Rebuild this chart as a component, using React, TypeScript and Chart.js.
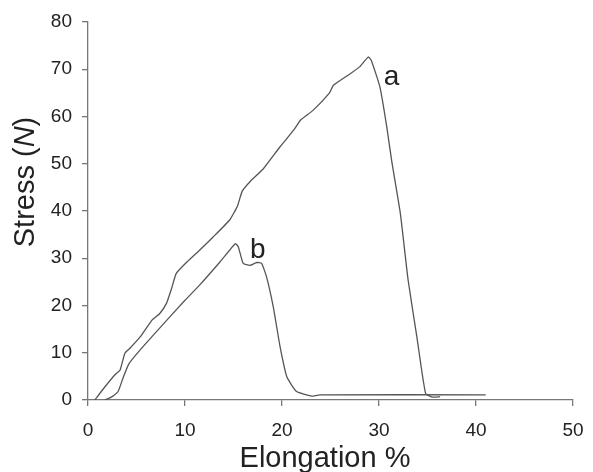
import React, { useEffect, useRef } from "react";
import { Chart, registerables } from "chart.js";

Chart.register(...registerables);

// Curve a (upper curve)
const curveAX = [0.7, 1.75, 2.8, 3.3, 3.8, 4.3, 5.4, 6.6, 7.4, 8.1, 8.6, 9.1, 10.2, 11.5, 12.9, 14.6, 15.4, 15.9, 16.7, 18.1, 19.8, 21.2, 21.9, 23.2, 24.9, 25.3, 27.0, 28.0, 28.9, 29.2, 30.1, 30.8, 31.3, 32.2, 33.0, 33.9, 34.8, 35.5, 36.3];
const curveAY = [0, 2.8, 5.4, 6.3, 9.9, 10.9, 13.4, 16.9, 18.3, 20.5, 23.5, 26.8, 29.2, 31.7, 34.5, 38.1, 41.0, 44.2, 46.2, 49.0, 53.6, 57.1, 59.2, 61.3, 65.0, 66.6, 69.0, 70.5, 72.6, 71.9, 66.2, 57.8, 50.7, 39.5, 25.4, 13.4, 1.4, 0.6, 0.7];

// Curve b (lower curve)
const curveBX = [1.75, 2.4, 3.1, 3.6, 4.2, 5.2, 7.2, 10.0, 11.5, 13.6, 14.6, 15.2, 15.5, 16.0, 16.7, 17.4, 17.9, 18.4, 19.1, 19.8, 20.5, 21.5, 23.2, 23.9, 41.0];
const curveBY = [0, 0.6, 1.8, 4.6, 7.6, 10.2, 14.8, 21.1, 24.3, 29.2, 31.7, 33.1, 32.4, 28.9, 28.5, 29.1, 28.9, 26.1, 19.7, 11.3, 4.9, 1.8, 0.8, 1.1, 1.1];

// Curve labels
const curveLabels = ["a", "b"];
const curveLabelX = [31.3, 17.5];
const curveLabelY = [66.6, 30.0];

// Axes
const xTicks = [0, 10, 20, 30, 40, 50];
const yTicks = [0, 10, 20, 30, 40, 50, 60, 70, 80];
const xTitle = "Elongation %";
const yTitleParts = ["Stress (", "N", ")"];

const FONT = "'Liberation Sans', Arial, Helvetica, sans-serif";

const toPoints = (xs: number[], ys: number[]) => xs.map((x, i) => ({ x, y: ys[i] }));

const annotPlugin = {
  id: "annot",
  afterDraw(chart: any) {
    const ctx = chart.ctx;
    const xs = chart.scales.x;
    const ys = chart.scales.y;
    ctx.save();
    ctx.fillStyle = "#222";
    // curve labels
    ctx.font = `28px ${FONT}`;
    ctx.textAlign = "center";
    ctx.textBaseline = "alphabetic";
    curveLabels.forEach((t, i) => {
      ctx.fillText(t, xs.getPixelForValue(curveLabelX[i]), ys.getPixelForValue(curveLabelY[i]));
    });
    // x title
    ctx.font = `29px ${FONT}`;
    ctx.textAlign = "center";
    ctx.fillText(xTitle, 325, 467);
    // y title with italic N
    ctx.translate(34, 182);
    ctx.rotate(-Math.PI / 2);
    const fonts = [`29px ${FONT}`, `italic 29px ${FONT}`, `29px ${FONT}`];
    let total = 0;
    const widths = yTitleParts.map((p, i) => {
      ctx.font = fonts[i];
      const w = ctx.measureText(p).width;
      total += w;
      return w;
    });
    let cx = -total / 2;
    ctx.textAlign = "left";
    yTitleParts.forEach((p, i) => {
      ctx.font = fonts[i];
      ctx.fillText(p, cx, 0);
      cx += widths[i];
    });
    ctx.restore();
  },
};

export default function App() {
  const ref = useRef<HTMLCanvasElement | null>(null);
  useEffect(() => {
    document.body.style.margin = "0";
    const chart = new Chart(ref.current as HTMLCanvasElement, {
      type: "scatter",
      data: {
        datasets: [
          {
            label: "a",
            data: toPoints(curveAX, curveAY),
            showLine: true,
            borderColor: "#555",
            borderWidth: 1.3,
            pointRadius: 0,
            tension: 0.15,
            fill: false,
          },
          {
            label: "b",
            data: toPoints(curveBX, curveBY),
            showLine: true,
            borderColor: "#555",
            borderWidth: 1.3,
            pointRadius: 0,
            tension: 0.15,
            fill: false,
          },
        ],
      },
      options: {
        animation: false,
        responsive: false,
        layout: { padding: { top: 22, right: 20, left: 0, bottom: 0 } },
        plugins: { legend: { display: false }, tooltip: { enabled: false } },
        scales: {
          x: {
            type: "linear",
            min: 0,
            max: 50,
            afterBuildTicks: (s: any) => {
              s.ticks = xTicks.map((v) => ({ value: v }));
            },
            afterFit: (s: any) => {
              s.height = 72;
              s.paddingLeft = 0;
              s.paddingRight = 0;
            },
            ticks: { font: { family: FONT, size: 19 }, color: "#222", padding: 13 },
            grid: { drawOnChartArea: false, drawTicks: true, tickLength: 6, color: "#777", lineWidth: 1.3 },
            border: { display: true, color: "#777", width: 1.3 },
          },
          y: {
            type: "linear",
            min: 0,
            max: 80,
            afterBuildTicks: (s: any) => {
              s.ticks = yTicks.map((v) => ({ value: v }));
            },
            afterFit: (s: any) => {
              s.width = 88;
              s.paddingTop = 0;
              s.paddingBottom = 0;
            },
            ticks: { font: { family: FONT, size: 19 }, color: "#222", padding: 10 },
            grid: { drawOnChartArea: false, drawTicks: true, tickLength: 6, color: "#777", lineWidth: 1.3 },
            border: { display: true, color: "#777", width: 1.3 },
          },
        },
      },
      plugins: [annotPlugin],
    });
    return () => chart.destroy();
  }, []);
  return (
    <div style={{ position: "absolute", left: 0, top: 0, width: 593, height: 472 }}>
      <canvas ref={ref} width={593} height={472} />
    </div>
  );
}
